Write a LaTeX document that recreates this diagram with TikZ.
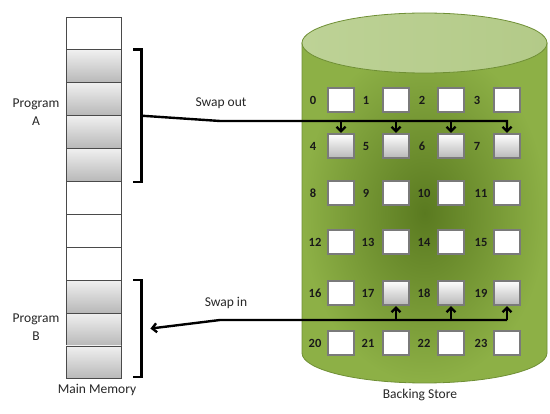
\documentclass[tikz,border=0pt]{standalone}
\usepackage{fontspec}
\setmainfont{Carlito}
\usetikzlibrary{arrows.meta,calc}
\definecolor{cylLight}{HTML}{8DB046}
\definecolor{cylDark}{HTML}{5A7A20}
\definecolor{cylEdge}{HTML}{6F8F35}
\definecolor{topFill}{HTML}{B3CA88}
\definecolor{topFillL}{HTML}{BDD296}
\definecolor{cellGray}{HTML}{7A7A7A}
\definecolor{memEdge}{HTML}{4A4A4A}
\definecolor{txt}{HTML}{262626}
\begin{document}
\begin{tikzpicture}[x=1pt,y=-1pt,
  bcell/.style={draw=cellGray, line width=1.6pt, fill=white, minimum width=25.5pt, minimum height=24.5pt, inner sep=0pt},
  gcell/.style={bcell, top color=white, bottom color=black!28},
  mwhite/.style={draw=memEdge, line width=0.9pt, fill=white, minimum width=55pt, minimum height=32.9pt, inner sep=0pt},
  mgray/.style={mwhite, top color=black!6, bottom color=black!28},
  lbl/.style={text=txt, font=\fontsize{13.5}{18}\selectfont, align=center, inner sep=0pt},
  num/.style={text=black!90, font=\fontsize{12.5}{14}\selectfont\bfseries, inner sep=0pt},
  brk/.style={line width=2.2pt, black},
  conn/.style={line width=2.4pt, black},
  arr/.style={-{Straight Barb[length=4.5pt,width=9pt]}}]
\useasboundingbox (0,0) rectangle (550,414);

% cylinder
\shadedraw[inner color=cylDark, outer color=cylLight, draw=cylEdge, line width=0.8pt]
  (302,43) -- (302,353) arc[start angle=180,end angle=360,x radius=122.5pt,y radius=30pt] -- (547,43) -- cycle;
\shadedraw[left color=topFillL, right color=topFill, draw=cylEdge, line width=0.8pt]
  (424.5,43) ellipse [x radius=122.5pt, y radius=30pt];

% backing store cells
\foreach \n in {0,...,23}{
  \pgfmathtruncatemacro\r{int(\n/4)}
  \pgfmathtruncatemacro\c{mod(\n,4)}
  \pgfmathsetmacro\x{{341,396,451,507}[\c]}
  \pgfmathsetmacro\y{{100,146,193,242,293,343}[\r]}
  \pgfmathsetmacro\lx{\n<10 ? {313,366,422,477}[\c] : {315,368,424,481}[\c]}
  \pgfmathtruncatemacro\g{((\n>3) && (\n<8)) || ((\n>16) && (\n<20))}
  \ifnum\g=1
    \node[gcell] (b\n) at (\x,\y) {};
  \else
    \node[bcell] (b\n) at (\x,\y) {};
  \fi
  \node[num] (l\n) at (\lx,\y) {\n};
}

% main memory
\foreach \i in {0,...,10}{
  \pgfmathsetmacro\my{17+32.9*\i+16.45}
  \pgfmathtruncatemacro\g{((\i>0) && (\i<5)) || (\i>7)}
  \ifnum\g=1
    \node[mgray] (m\i) at (93.5,\my) {};
  \else
    \node[mwhite] (m\i) at (93.5,\my) {};
  \fi
}

% brackets
\coordinate (aT) at ($(m1.north east)+(20,0)$);
\coordinate (aB) at ($(m4.south east)+(20,0)$);
\coordinate (aTip) at ($(aT)!0.5!(aB)$);
\draw[brk] ($(aT)+(-8,0)$) -- (aT) -- (aB) -- ($(aB)+(-8,0)$);
\coordinate (bT) at ($(m8.north east)+(20,0)$);
\coordinate (bB) at ($(m10.south east)+(20,-2)$);
\coordinate (bTip) at ($(bT)!0.5!(bB)$);
\draw[brk] ($(bT)+(-8,0)$) -- (bT) -- (bB) -- ($(bB)+(-8,0)$);

% labels
\node[lbl] (pa) at (36,112) {Program\\A};
\node[lbl] (pb) at (36,327) {Program\\B};
\node[lbl] (mm) at (97,390) {Main Memory};
\node[lbl] (bs) at (420,395) {Backing Store};
\node[lbl] (so) at (221,103) {Swap out};
\node[lbl] (si) at (226,303) {Swap in};

% swap out
\coordinate (oBend) at (220,121);
\draw[conn,arr] (aTip) -- (oBend) -- (b7.north |- oBend) -- (b7.north);
\foreach \n in {4,5,6}
  \draw[conn,arr] (b\n.north |- oBend) -- (b\n.north);

% swap in
\coordinate (iBend) at (220,320);
\coordinate (bEnd) at ($(bTip)+(9,0)$);
\draw[conn,arr] (b19.south |- iBend) -- (iBend) -- (bEnd);
\foreach \n in {17,18,19}
  \draw[conn,arr] (b\n.south |- iBend) -- (b\n.south);
\end{tikzpicture}
\end{document}
